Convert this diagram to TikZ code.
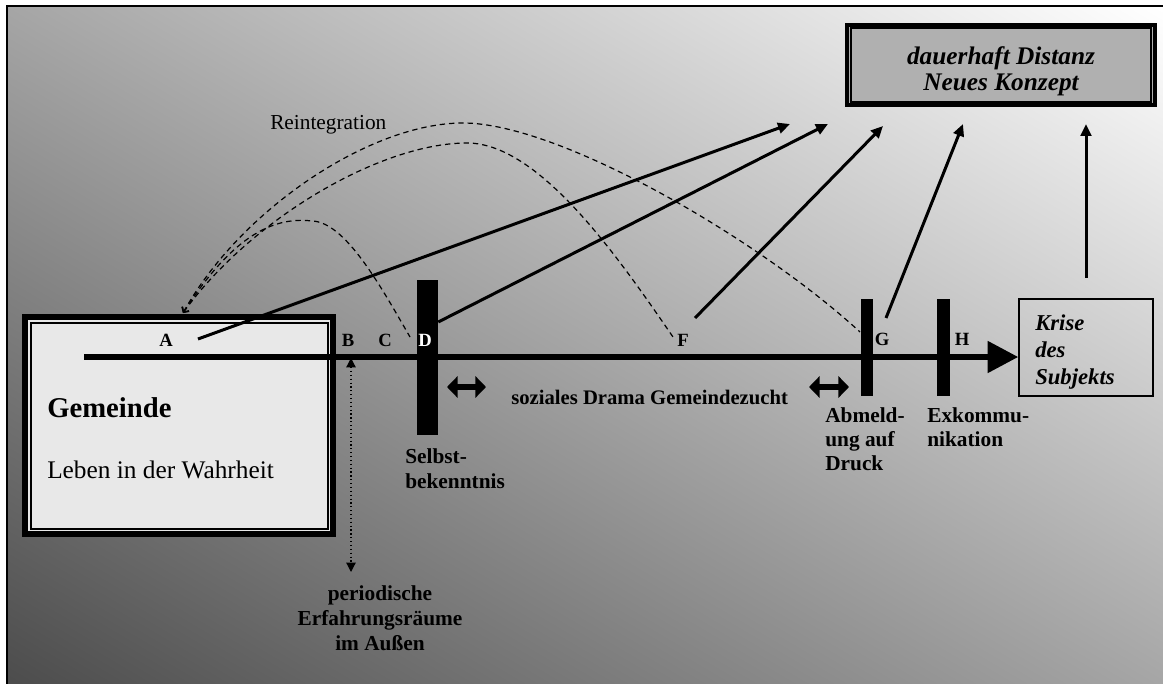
\documentclass[tikz,border=0pt]{standalone}
\usepackage{fontspec}
\setmainfont{Liberation Serif}
\usetikzlibrary{arrows.meta}

\begin{document}
\begin{tikzpicture}[x=0.75pt,y=0.75pt,yscale=-1,xscale=1,
  lbl/.style={font=\fontsize{14}{16}\selectfont\bfseries, inner sep=0pt, anchor=base},
  txt/.style={font=\fontsize{16}{18.75}\selectfont\bfseries, inner sep=0pt, anchor=base west, align=left},
  bar/.style={fill=black, draw=none, inner sep=0pt},
  pfeil/.style={line width=2.25pt, -{Triangle[length=9pt,width=8pt]}},
  dpfeil/.style={line width=4.5pt, {Triangle[length=8pt,width=16pt]}-{Triangle[length=8pt,width=16pt]}},
  rueck/.style={line width=0.9pt, dash pattern=on 4pt off 3pt, {Straight Barb[length=3pt,width=6pt]}-}]
\useasboundingbox (0,0) rectangle (1163,684);

%Shape: Background
\begin{scope}
\clip (7,6) rectangle (1163,684);
\shade [top color=white, middle color=black!16, bottom color=black!70, shading angle=-30.5] (-0.5,-240.5) rectangle (1170.5,930.5);
\end{scope}
\draw [line width=1.5] (7,684) -- (7,6) -- (1163,6);

%Shape: Rectangle Gemeinde
\node (gem) [draw, line width=4.5pt, fill={rgb, 255:red, 232; green, 232; blue, 232 }, minimum width=231pt, minimum height=162.75pt, inner sep=0pt] at (179,425.5) {};
\draw [line width=0.9] (31,323) rectangle (328,529);
% Text Node
\node (gemTxt) [font=\fontsize{21.5}{24}\selectfont\bfseries, inner sep=0pt, anchor=base west] at (47,417) {Gemeinde};
% Text Node
\node (leben) [font=\fontsize{19}{22}\selectfont, inner sep=0pt, anchor=base west] at (47,478) {Leben in der Wahrheit};

%Shape: Rectangle Konzept
\node (konzept) [draw, line width=3pt, fill={rgb, 255:red, 176; green, 176; blue, 176 }, minimum width=231pt, minimum height=60pt, inner sep=0pt] at (1001,65) {};
\draw [line width=0.9] (851,28) rectangle (1151,102);
% Text Node
\node (konzeptTxt) [font=\fontsize{19}{19.5}\selectfont\bfseries\itshape, inner sep=0pt, anchor=base, align=center] at (1001,91) {dauerhaft Distanz\\Neues Konzept};

%Shape: Rectangle Krise
\node (krise) [draw, line width=1.1pt, minimum width=100.5pt, minimum height=72.75pt, inner sep=0pt] at (1086,347.5) {};
% Text Node
\node (kriseTxt) [font=\fontsize{17}{20.25}\selectfont\bfseries\itshape, inner sep=0pt, anchor=base west, align=left] at (1035,384) {Krise\\des\\Subjekts};

%Straight Lines: Zeitachse
\coordinate (tl0) at (84,357);
\draw [line width=4.5pt, -{Triangle[length=23pt,width=23pt]}] (tl0) -- (tl0 -| krise.west);

%Shape: Bars
\node (barD) [bar, minimum width=15.75pt, minimum height=116.25pt] at (427.5,357.5) {};
\node (barG) [bar, minimum width=9pt, minimum height=72.75pt] at (867,347.5) {};
\node (barH) [bar, minimum width=9.75pt, minimum height=72.75pt] at (943.5,347.5) {};

% Text Node: Punkte
\node (lA) [lbl] at (166,346) {A};
\node (lB) [lbl] at (348,346) {B};
\node (lC) [lbl] at (385,346) {C};
\node (lD) [lbl, text=white] at (425,346) {D};
\node (lF) [lbl] at (683,346) {F};
\node (lG) [lbl] at (882,345) {G};
\node (lH) [lbl] at (962,345) {H};

% Text Node
\node (reint) [font=\fontsize{16}{18}\selectfont, inner sep=0pt, anchor=base west] at (270,130) {Reintegration};
\node (drama) [txt, font=\fontsize{15.5}{18}\selectfont\bfseries] at (511,404) {soziales Drama Gemeindezucht};
\node (selbst) [txt] at (405,488) {Selbst-\\bekenntnis};
\node (abmeld) [txt, font=\fontsize{16}{18}\selectfont\bfseries] at (825,470) {Abmeld-\\ung auf\\Druck};
\node (exkom) [txt, font=\fontsize{16}{18}\selectfont\bfseries] at (927,446) {Exkommu-\\nikation};
\node (period) [txt, anchor=base, align=center] at (380,650) {periodische\\Erfahrungsräume\\im Außen};

%Straight Lines: Doppelpfeile
\coordinate (dpD1) at (447,387);
\coordinate (dpD2) at (486,387);
\coordinate (dpG1) at (809,387);
\coordinate (dpG2) at (849,387);
\draw [dpfeil] (dpD1) -- (dpD2);
\draw [dpfeil] (dpG1) -- (dpG2);

%Straight Lines: periodisch
\coordinate (perTop) at (351,358);
\coordinate (perBot) at (351,572);
\draw [line width=0.9, dotted, {Triangle[length=7pt,width=7pt]}-{Triangle[length=7pt,width=7pt]}] (perTop) -- (perBot);

%Straight Lines: nach oben
\coordinate (outA) at (198,339);
\coordinate (outD) at (barD.east |- 0,322);
\coordinate (outF) at (695,318);
\coordinate (outG) at (886,318);
\coordinate (outK) at (krise.north |- 0,278);
\coordinate (k1) at (790,124);
\coordinate (k2) at (828,124);
\coordinate (k3) at (883,126);
\coordinate (k4) at (963,124);
\coordinate (k5) at (krise.north |- 0,124);
\draw [pfeil] (outA) -- (k1);
\draw [pfeil] (outD) -- (k2);
\draw [pfeil] (outF) -- (k3);
\draw [pfeil] (outG) -- (k4);
\draw [pfeil] (outK) -- (k5);

%Curves: Reintegration
\coordinate (rA) at (183,313);
\coordinate (rD) at (410,337);
\coordinate (rF) at (673,337);
\coordinate (rG) at (860,332);
\draw [rueck] (rA) .. controls (230,240) and (270,216) .. (312,221) .. controls (345,222) and (380,285) .. (rD);
\draw [rueck] (rA) .. controls (250,220) and (380,143) .. (467,143) .. controls (540,143) and (620,260) .. (rF);
\draw [rueck] (rA) .. controls (240,210) and (370,123) .. (463,123) .. controls (560,123) and (760,240) .. (rG);

\end{tikzpicture}
\end{document}
